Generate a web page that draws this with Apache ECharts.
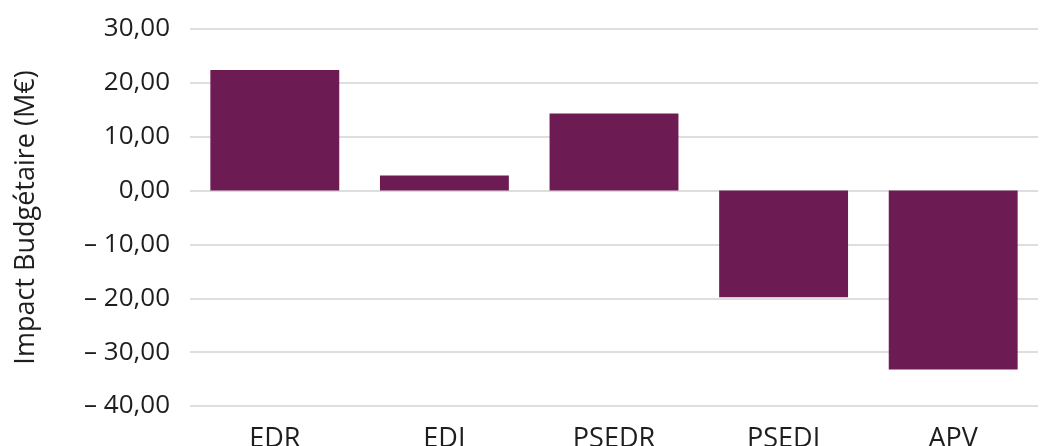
<!DOCTYPE html>
<html>
<head>
<meta charset="utf-8">
<script src="https://cdn.jsdelivr.net/npm/echarts@6/dist/echarts.min.js"></script>
<style>
  html, body { margin: 0; padding: 0; background: #fff; }
  #chart { width: 1048px; height: 446px; }
</style>
</head>
<body>
<div id="chart"></div>
<script>
const categories = ["EDR", "EDI", "PSEDR", "PSEDI", "APV"];
const impact = [22.4, 2.8, 14.3, -19.8, -33.2];
const yTicks = { min: -40, max: 30, interval: 10 };

const chart = echarts.init(document.getElementById("chart"));

// french formatting: comma decimal, en dash for negatives
function fmt(v) {
  const s = Math.abs(v).toFixed(2).replace(".", ",");
  return v < 0 ? "\u2013 " + s : s;
}

const option = {
  animation: false,
  grid: { left: 190, right: 10, top: 29, bottom: 40, outerBoundsMode: "none", containLabel: false },
  xAxis: {
    type: "category",
    data: categories,
    axisLine: { show: false },
    axisTick: { show: false },
    axisLabel: {
      color: "#1e1e1e",
      fontFamily: "Open Sans",
      fontSize: 27,
      margin: 20
    }
  },
  yAxis: {
    type: "value",
    min: yTicks.min,
    max: yTicks.max,
    interval: yTicks.interval,
    name: "Impact Budgétaire (M€)",
    nameLocation: "middle",
    nameGap: 150,
    nameTextStyle: { color: "#1e1e1e", fontFamily: "Open Sans", fontSize: 27 },
    axisLabel: {
      color: "#1e1e1e",
      fontFamily: "Open Sans",
      fontSize: 26,
      margin: 20,
      formatter: fmt
    },
    splitLine: { lineStyle: { color: "#d3d3d3", width: 1.5 } }
  },
  series: [
    {
      type: "bar",
      data: impact,
      barCategoryGap: "24%",
      itemStyle: { color: "#6d1c53" }
    }
  ]
};
chart.setOption(option);
</script>
</body>
</html>
